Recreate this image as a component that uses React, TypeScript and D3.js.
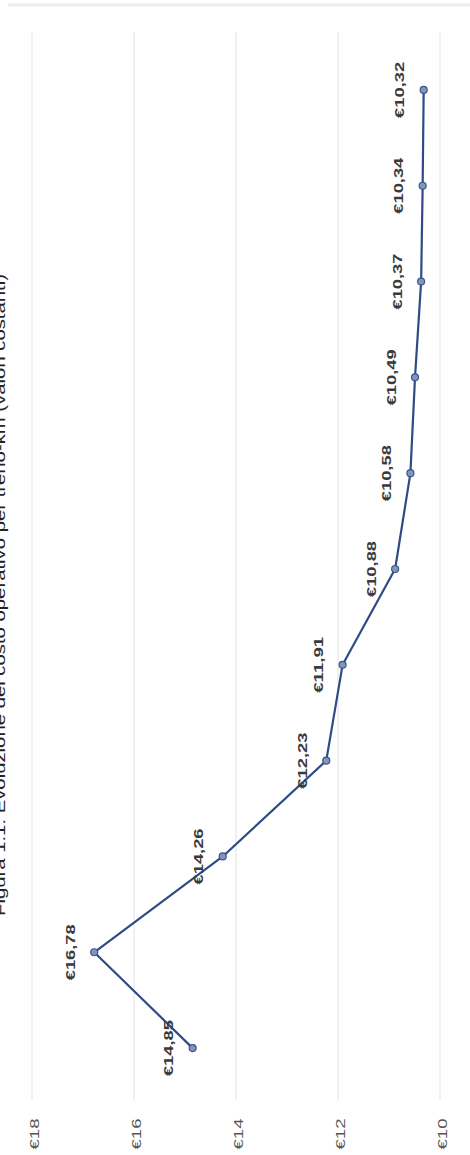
import React from "react";
import * as d3 from "d3";

const TITLE = "Figura 1.1: Evoluzione del costo operativo per treno-km (valori costanti)";
const categories = ["1", "2", "3", "4", "5", "6", "7", "8", "9", "10", "11"];
const values = [14.85, 16.78, 14.26, 12.23, 11.91, 10.88, 10.58, 10.49, 10.37, 10.34, 10.32];
const ticks = [10, 12, 14, 16, 18];

const W = 470;
const H = 1155;

const fmt = (v: number, d: number) => "€" + v.toFixed(d).replace(".", ",");

export default function App() {
  // Rotated chart: value axis runs horizontally (right = low), categories run bottom -> top
  const x = d3.scaleLinear().domain([10, 18]).range([440, 32]);
  const y = d3.scaleBand().domain(categories).range([1096, 42]);
  const cy = (c: string) => (y(c) as number) + y.bandwidth() / 2;

  const pts = categories.map((c, i) => [x(values[i]), cy(c)] as [number, number]);
  const line = d3.line<[number, number]>().x((d) => d[0]).y((d) => d[1]);

  return (
    <svg
      width={W}
      height={H}
      style={{ position: "absolute", left: 0, top: 0, background: "#fff" }}
      fontFamily="'Liberation Sans', Arial, sans-serif"
    >
      <rect x={0} y={0} width={W} height={H} fill="#fff" />
      {/* chart frame top edge */}
      <line x1={8} x2={W} y1={5} y2={5} stroke="#ececec" strokeWidth={3} />

      {/* title, rotated and partly cut off at the left edge */}
      <text
        transform={`translate(5, 595) rotate(-90)`}
        textAnchor="middle"
        fontSize={15}
        fill="#222"
        textLength={642}
        lengthAdjust="spacingAndGlyphs"
      >
        {TITLE}
      </text>

      {/* gridlines */}
      {ticks.map((t) => (
        <line key={"g" + t} x1={x(t)} x2={x(t)} y1={32} y2={1100} stroke="#e2e2e2" strokeWidth={1} />
      ))}

      {/* tick labels */}
      {ticks.map((t) => (
        <text
          key={"t" + t}
          transform={`translate(${x(t) + 2}, 1134) rotate(-90)`}
          textAnchor="middle"
          dominantBaseline="central"
          fontSize={13}
          fill="#555"
          textLength={31}
          lengthAdjust="spacingAndGlyphs"
        >
          {fmt(t, 0)}
        </text>
      ))}

      {/* line */}
      <path d={line(pts) || ""} fill="none" stroke="#2f4b85" strokeWidth={2.2} strokeLinejoin="round" />

      {/* markers */}
      {pts.map((p, i) => (
        <circle key={"m" + i} cx={p[0]} cy={p[1]} r={3.5} fill="#8195bd" stroke="#3b5488" strokeWidth={1.2} />
      ))}

      {/* data labels */}
      {pts.map((p, i) => (
        <text
          key={"l" + i}
          transform={`translate(${p[0] - 24}, ${p[1]}) rotate(-90)`}
          textAnchor="middle"
          dominantBaseline="central"
          fontSize={13}
          fontWeight="bold"
          fill="#3a3a3a"
          textLength={56}
          lengthAdjust="spacingAndGlyphs"
        >
          {fmt(values[i], 2)}
        </text>
      ))}
    </svg>
  );
}
